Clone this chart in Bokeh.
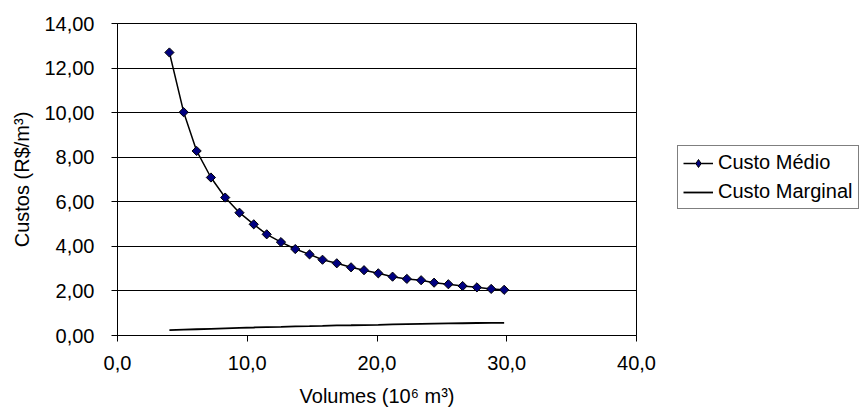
from bokeh.plotting import figure
from bokeh.layouts import row
from bokeh.models import Legend, LegendItem, FixedTicker, Range1d
from bokeh.embed import file_html
from bokeh.resources import INLINE
import numpy as np

# Volumes (10^6 m3) and unit costs (R$/m3)
volumes = [4.0, 5.1, 6.1, 7.2, 8.3, 9.4, 10.5, 11.5, 12.6, 13.7, 14.8, 15.8,
           16.9, 18.0, 19.0, 20.1, 21.2, 22.3, 23.4, 24.4, 25.5, 26.6, 27.7,
           28.8, 29.8]
custo_medio = [12.70, 10.02, 8.28, 7.09, 6.19, 5.51, 4.99, 4.54, 4.19, 3.88,
               3.64, 3.40, 3.24, 3.06, 2.93, 2.79, 2.64, 2.54, 2.48, 2.37,
               2.30, 2.22, 2.16, 2.09, 2.05]
custo_marginal = [0.24, 0.26, 0.28, 0.30, 0.32, 0.34, 0.36, 0.38, 0.39, 0.41,
                  0.42, 0.43, 0.45, 0.46, 0.47, 0.48, 0.50, 0.51, 0.52, 0.53,
                  0.54, 0.55, 0.56, 0.57, 0.57]

y_ticks = [0, 2, 4, 6, 8, 10, 12, 14]
y_tick_labels = ["0,00", "2,00", "4,00", "6,00", "8,00", "10,00", "12,00", "14,00"]
x_ticks = [0, 10, 20, 30, 40]
x_tick_labels = ["0,0", "10,0", "20,0", "30,0", "40,0"]

FONT = "Liberation Sans"
FS = "20px"

MEDIO_LINE = dict(line_color="#000000", line_width=1.5)
MEDIO_MARK = dict(marker="square", angle=np.pi / 4, size=6.5,
                  fill_color="#000080", line_color="#000000", line_width=1)
MARG_LINE = dict(line_color="#000000", line_width=1.8)

p = figure(width=660, height=417, output_backend="svg", toolbar_location=None,
           x_range=Range1d(0, 40), y_range=Range1d(0, 14),
           min_border_left=117, min_border_right=24,
           min_border_top=23, min_border_bottom=82)
p.background_fill_color = "white"
p.border_fill_color = "white"
p.outline_line_color = "#000000"
p.outline_line_width = 1

# Axes
for ax in (p.xaxis[0], p.yaxis[0]):
    ax.axis_line_color = "#000000"
    ax.major_tick_line_color = "#000000"
    ax.minor_tick_line_color = None
    ax.major_tick_in = 0
    ax.major_tick_out = 6
    ax.major_label_text_font = FONT
    ax.major_label_text_font_size = FS
    ax.major_label_text_color = "#000000"
    ax.axis_label_text_font = FONT
    ax.axis_label_text_font_size = FS
    ax.axis_label_text_font_style = "normal"
    ax.axis_label_text_color = "#000000"

p.xaxis.ticker = FixedTicker(ticks=x_ticks)
p.xaxis.major_label_overrides = dict(zip(x_ticks, x_tick_labels))
p.yaxis.ticker = FixedTicker(ticks=y_ticks)
p.yaxis.major_label_overrides = dict(zip(y_ticks, y_tick_labels))
p.xaxis.major_label_standoff = 14
p.yaxis.major_label_standoff = 17
p.xaxis.axis_label = "Volumes (10\u2076 m\u00b3)"
p.yaxis.axis_label = "Custos (R$/m\u00b3)"
p.xaxis.axis_label_standoff = 12
p.yaxis.axis_label_standoff = 8

# Grid: horizontal lines only
p.xgrid.grid_line_color = None
p.ygrid.grid_line_color = "#000000"
p.ygrid.grid_line_width = 1

# Series
p.line(volumes, custo_medio, **MEDIO_LINE)
p.scatter(volumes, custo_medio, **MEDIO_MARK)
p.line(volumes, custo_marginal, **MARG_LINE)

# Legend area to the right of the chart; its key renderers sit off-range
pl = figure(width=205, height=417, output_backend="svg", toolbar_location=None,
            x_range=Range1d(0, 1), y_range=Range1d(0, 1),
            x_axis_type=None, y_axis_type=None,
            min_border=0)
pl.outline_line_color = None
pl.background_fill_color = "white"
pl.border_fill_color = "white"
pl.xgrid.visible = False
pl.ygrid.visible = False
k1 = pl.line([-5, -4], [-5, -4], **MEDIO_LINE)
k2 = pl.scatter([-5], [-5], marker="diamond", size=12.5,
                fill_color="#000080", line_color="#000000", line_width=1)
k3 = pl.line([-5, -4], [-5, -4], **MARG_LINE)

# the row aligns both frames, so the legend is placed from the shared bottom edge
legend = Legend(items=[LegendItem(label="Custo Médio", renderers=[k1, k2]),
                       LegendItem(label="Custo Marginal", renderers=[k3])],
                location=(17, 126))
legend.label_text_font = FONT
legend.label_text_font_size = FS
legend.label_text_color = "#000000"
legend.border_line_color = "#000000"
legend.border_line_width = 1
legend.background_fill_color = "white"
legend.background_fill_alpha = 1
legend.glyph_width = 30
legend.glyph_height = 20
legend.label_standoff = 5
legend.spacing = 6
legend.padding = 5
legend.margin = 0
pl.add_layout(legend, "center")

layout = row(p, pl, spacing=0)
open("out.html", "w").write(file_html(layout, INLINE))
